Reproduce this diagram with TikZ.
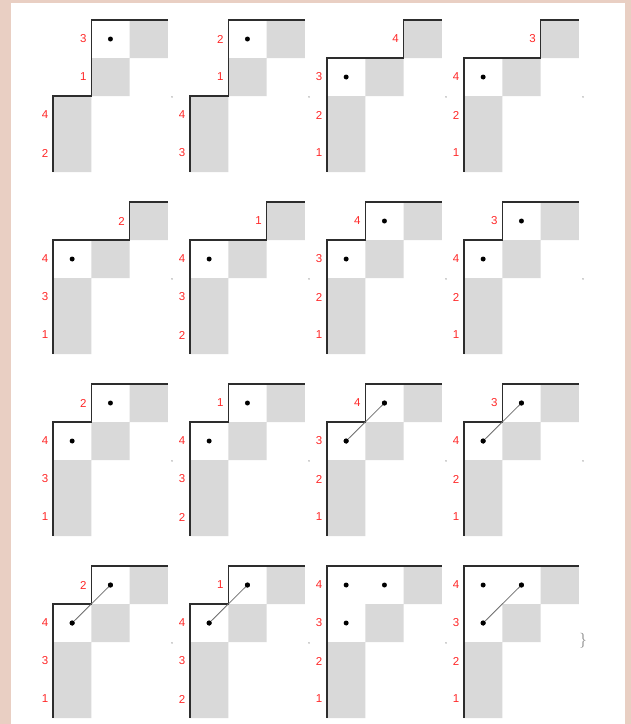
\documentclass[tikz,border=0pt]{standalone}
\usepackage{fontspec}
\newfontfamily\labfont{Liberation Sans}
\definecolor{bgpink}{RGB}{233,207,195}
\definecolor{cellgray}{RGB}{217,217,217}
\definecolor{labred}{RGB}{255,40,40}
\definecolor{pathcol}{RGB}{45,45,45}
\definecolor{linkcol}{RGB}{110,110,110}
\tikzset{
  stairpath/.style={draw=pathcol, line width=1.5pt},
  lab/.style={text=labred, font=\labfont\fontsize{11.5}{11.5}\selectfont, inner sep=0pt, anchor=center},
  dotnode/.style={circle, fill=black, draw=none, inner sep=0pt, minimum size=5pt},
  link/.style={draw=linkcol, line width=0.8pt},
  punct/.style={text=black!75, inner sep=0pt, font=\labfont\fontsize{7}{7}\selectfont, anchor=base},
  brace/.style={text=gray, inner sep=0pt, font=\fontsize{15}{15}\selectfont, anchor=center},
}
\begin{document}
\begin{tikzpicture}[x=1pt,y=-1pt]
\fill[bgpink] (0,0) rectangle (631,724);
\fill[white] (11,3) rectangle (625,724);
\useasboundingbox (0,0) rectangle (631,724);
\foreach \id/\j/\i/\t/\la/\lb/\lc/\ld/\ln in {
  1/0/0/1/3/1/4/2/0, 2/1/0/1/2/1/4/3/0, 3/2/0/2/4/3/2/1/0, 4/3/0/2/3/4/2/1/0,
  5/0/1/2/2/4/3/1/0, 6/1/1/2/1/4/3/2/0, 7/2/1/3/4/3/2/1/0, 8/3/1/3/3/4/2/1/0,
  9/0/2/3/2/4/3/1/0, 10/1/2/3/1/4/3/2/0, 11/2/2/3/4/3/2/1/1, 12/3/2/3/3/4/2/1/1,
  13/0/3/3/2/4/3/1/1, 14/1/3/3/1/4/3/2/1, 15/2/3/4/4/3/2/1/0, 16/3/3/4/4/3/2/1/1}
{
  \begin{scope}[shift={(53+137*\j,20+182*\i)}, x=38.3pt, y=-38pt]
    \fill[cellgray] (2,0) rectangle (3,1) (1,1) rectangle (2,2) (0,2) rectangle (1,4);
    \ifcase\t\or
      \draw[stairpath] (0,4) -- (0,2) -- (1,2) -- (1,0) -- (3,0);
      \node[dotnode] (d\id-12) at (1.5,0.5) {};
      \def\xa{1}\def\xb{1}
    \or
      \draw[stairpath] (0,4) -- (0,1) -- (2,1) -- (2,0) -- (3,0);
      \node[dotnode] (d\id-21) at (0.5,1.5) {};
      \def\xa{2}\def\xb{0}
    \or
      \draw[stairpath] (0,4) -- (0,1) -- (1,1) -- (1,0) -- (3,0);
      \node[dotnode] (d\id-12) at (1.5,0.5) {};
      \node[dotnode] (d\id-21) at (0.5,1.5) {};
      \def\xa{1}\def\xb{0}
    \or
      \draw[stairpath] (0,4) -- (0,0) -- (3,0);
      \node[dotnode] (d\id-11) at (0.5,0.5) {};
      \node[dotnode] (d\id-12) at (1.5,0.5) {};
      \node[dotnode] (d\id-21) at (0.5,1.5) {};
      \def\xa{0}\def\xb{0}
    \fi
    \ifnum\ln=1
      \draw[link] (d\id-21.center) -- (d\id-12.center);
      \node[dotnode] at (d\id-21) {};
      \node[dotnode] at (d\id-12) {};
    \fi
    \node[lab] (l\id-1) at ([xshift=-8pt]\xa,0.5) {\la};
    \node[lab] (l\id-2) at ([xshift=-8pt]\xb,1.5) {\lb};
    \node[lab] (l\id-3) at ([xshift=-8pt]0,2.5) {\lc};
    \node[lab] (l\id-4) at ([xshift=-8pt]0,3.5) {\ld};
  \end{scope}
  \ifnum\id<16
    \node[punct] (p\id) at (172+137*\j,97.5+182*\i) {,};
  \else
    \node[brace] (p\id) at (583,641) {\}};
  \fi
}
\end{tikzpicture}
\end{document}
